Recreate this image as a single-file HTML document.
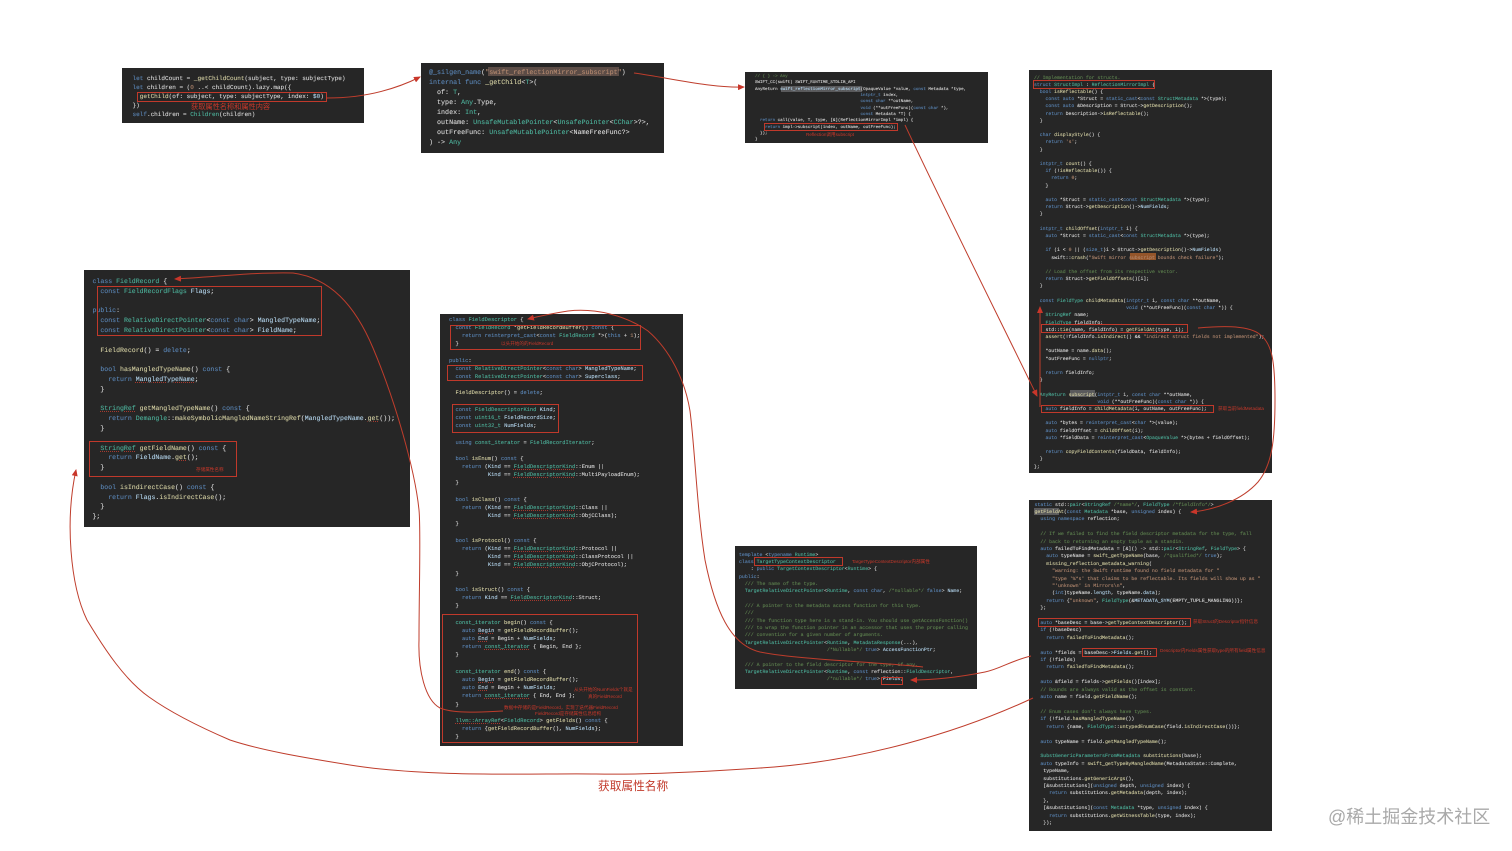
<!DOCTYPE html>
<html lang="zh"><head><meta charset="utf-8"><title>Swift Mirror</title>
<style>
html,body{margin:0;padding:0;background:#fff}
body{position:relative;width:1512px;height:851px;overflow:hidden;font-family:"Liberation Mono",monospace}
.b{position:absolute;background:#262626}
pre{position:absolute;margin:0;color:#dcdcdc;font-family:"Liberation Mono",monospace;text-rendering:geometricPrecision;filter:blur(.3px);white-space:pre;-webkit-text-stroke:.08px currentColor}
i{font-style:normal}
.k{color:#5b87b8}.t{color:#4db39c}.c{color:#5f8450}.s{color:#b58a70}.f{color:#d6d2a4}.v{color:#b4d6ee}
.u{text-decoration:underline dotted #a5392e;text-decoration-thickness:.5px}
.h{position:absolute;background:#5a5a5c}
.r{position:absolute;border:1px solid #c0392b;box-sizing:border-box}
.l{position:absolute;color:#c9382a;font-family:"Liberation Sans","Noto Sans CJK SC",sans-serif;white-space:nowrap;line-height:1;filter:blur(.2px)}
svg{position:absolute;left:0;top:0}
</style></head><body>

<div class="b" style="left:122px;top:68px;width:242px;height:55px"></div>
<div class="b" style="left:421px;top:63px;width:243px;height:90px"></div>
<div class="b" style="left:745px;top:72px;width:243px;height:71px"></div>
<div class="b" style="left:1029px;top:70px;width:243px;height:403px"></div>
<div class="b" style="left:1029px;top:500px;width:243px;height:331px"></div>
<div class="b" style="left:84px;top:270px;width:326px;height:257px"></div>
<div class="b" style="left:440px;top:314px;width:243px;height:432px"></div>
<div class="b" style="left:735px;top:546px;width:242px;height:143px"></div>

<div class="h" style="left:488px;top:67px;width:131px;height:9px;background:#5c4c46"></div>
<div class="h" style="left:781px;top:86px;width:81px;height:6px"></div>
<div class="h" style="left:1070px;top:390px;width:25px;height:7px"></div>
<div class="h" style="left:1130px;top:253px;width:26px;height:7px;background:#94552a"></div>
<div class="h" style="left:1034px;top:508px;width:25px;height:7px"></div>

<pre style="left:132.5px;top:74.3px;font-size:6.03px;line-height:9px"><i class="k">let</i> childCount = <i class="f">_getChildCount</i>(subject, type: subjectType)
<i class="k">let</i> children = (<i class="s">0</i> ..&lt; childCount).lazy.map({
  <i class="f">getChild</i>(of: subject, type: subjectType, index: <i class="v">$0</i>)
})
<i class="k">self</i>.children = <i class="t">Children</i>(children)</pre>

<pre style="left:429px;top:68px;font-size:6.7px;line-height:10px"><i class="k">@_silgen_name</i>(<i class="s">"swift_reflectionMirror_subscript"</i>)
<i class="k">internal func</i> <i class="f">_getChild</i>&lt;<i class="t">T</i>&gt;(
  of: <i class="t">T</i>,
  type: <i class="t">Any</i>.Type,
  index: <i class="t">Int</i>,
  outName: <i class="t">UnsafeMutablePointer</i>&lt;<i class="t">UnsafePointer</i>&lt;<i class="t">CChar</i>&gt;?&gt;,
  outFreeFunc: <i class="t">UnsafeMutablePointer</i>&lt;NameFreeFunc?&gt;
) -&gt; <i class="t">Any</i></pre>

<pre style="left:755px;top:74px;font-size:4.2px;line-height:6.33px"><i class="c">// { } -&gt; Any</i>
SWIFT_CC(swift) SWIFT_RUNTIME_STDLIB_API
AnyReturn <i class="v">swift_reflectionMirror_subscript</i>(OpaqueValue *value, <i class="k">const</i> Metadata *type,
                                          <i class="k">intptr_t</i> index,
                                          <i class="k">const char</i> **outName,
                                          <i class="k">void</i> (**outFreeFunc)(<i class="k">const char</i> *),
                                          <i class="k">const</i> Metadata *T) {
  <i class="k">return</i> call(value, T, type, [&amp;](ReflectionMirrorImpl *impl) {
    <i class="k">return</i> impl-&gt;subscript(index, outName, outFreeFunc);
  });
}</pre>

<pre style="left:1034px;top:74.6px;font-size:4.8px;line-height:7.2px"><i class="c">// Implementation for structs.</i>
<i class="k">struct</i> <i class="t">StructImpl</i> : <i class="t">ReflectionMirrorImpl</i> {
  <i class="k">bool</i> <i class="f">isReflectable</i>() {
    <i class="k">const auto</i> *Struct = <i class="k">static_cast</i>&lt;<i class="k">const</i> <i class="t">StructMetadata</i> *&gt;(type);
    <i class="k">const auto</i> &amp;Description = Struct-&gt;<i class="f">getDescription</i>();
    <i class="k">return</i> Description-&gt;<i class="f">isReflectable</i>();
  }

  <i class="k">char</i> <i class="f">displayStyle</i>() {
    <i class="k">return</i> <i class="s">'s'</i>;
  }

  <i class="k">intptr_t</i> <i class="f">count</i>() {
    <i class="k">if</i> (!<i class="f">isReflectable</i>()) {
      <i class="k">return</i> <i class="s">0</i>;
    }

    <i class="k">auto</i> *Struct = <i class="k">static_cast</i>&lt;<i class="k">const</i> <i class="t">StructMetadata</i> *&gt;(type);
    <i class="k">return</i> Struct-&gt;<i class="f">getDescription</i>()-&gt;<i class="v">NumFields</i>;
  }

  <i class="k">intptr_t</i> <i class="f">childOffset</i>(<i class="k">intptr_t</i> i) {
    <i class="k">auto</i> *Struct = <i class="k">static_cast</i>&lt;<i class="k">const</i> <i class="t">StructMetadata</i> *&gt;(type);

    <i class="k">if</i> (i &lt; <i class="s">0</i> || (<i class="k">size_t</i>)i &gt; Struct-&gt;<i class="f">getDescription</i>()-&gt;<i class="v">NumFields</i>)
      swift::<i class="f">crash</i>(<i class="s">"Swift mirror subscript bounds check failure"</i>);

    <i class="c">// Load the offset from its respective vector.</i>
    <i class="k">return</i> Struct-&gt;<i class="f">getFieldOffsets</i>()[i];
  }

  <i class="k">const</i> <i class="t">FieldType</i> <i class="f">childMetadata</i>(<i class="k">intptr_t</i> i, <i class="k">const char</i> **outName,
                                <i class="k">void</i> (**outFreeFunc)(<i class="k">const char</i> *)) {
    <i class="t">StringRef</i> name;
    <i class="t">FieldType</i> fieldInfo;
    std::<i class="f">tie</i>(name, fieldInfo) = <i class="f">getFieldAt</i>(type, i);
    <i class="f">assert</i>(!fieldInfo.<i class="f">isIndirect</i>() &amp;&amp; <i class="s">"indirect struct fields not implemented"</i>);

    *outName = name.<i class="f">data</i>();
    *outFreeFunc = <i class="k">nullptr</i>;

    <i class="k">return</i> fieldInfo;
  }

  <i class="t">AnyReturn</i> <i class="f">subscript</i>(<i class="k">intptr_t</i> i, <i class="k">const char</i> **outName,
                      <i class="k">void</i> (**outFreeFunc)(<i class="k">const char</i> *)) {
    <i class="k">auto</i> fieldInfo = <i class="f">childMetadata</i>(i, outName, outFreeFunc);

    <i class="k">auto</i> *bytes = <i class="k">reinterpret_cast</i>&lt;<i class="k">char</i> *&gt;(value);
    <i class="k">auto</i> fieldOffset = <i class="f">childOffset</i>(i);
    <i class="k">auto</i> *fieldData = <i class="k">reinterpret_cast</i>&lt;<i class="t">OpaqueValue</i> *&gt;(bytes + fieldOffset);

    <i class="k">return</i> <i class="f">copyFieldContents</i>(fieldData, fieldInfo);
  }
};</pre>

<pre style="left:1034.5px;top:501.5px;font-size:4.9px;line-height:7.4px"><i class="k">static</i> std::<i class="t">pair</i>&lt;<i class="t">StringRef</i> <i class="c">/*name*/</i>, <i class="t">FieldType</i> <i class="c">/*fieldInfo*/</i>&gt;
<i class="f">getFieldAt</i>(<i class="k">const</i> <i class="t">Metadata</i> *base, <i class="k">unsigned</i> index) {
  <i class="k">using namespace</i> reflection;

  <i class="c">// If we failed to find the field descriptor metadata for the type, fall</i>
  <i class="c">// back to returning an empty tuple as a standin.</i>
  <i class="k">auto</i> failedToFindMetadata = [&amp;]() -&gt; std::<i class="t">pair</i>&lt;<i class="t">StringRef</i>, <i class="t">FieldType</i>&gt; {
    <i class="k">auto</i> typeName = <i class="f">swift_getTypeName</i>(base, <i class="c">/*qualified*/</i> <i class="k">true</i>);
    <i class="f">missing_reflection_metadata_warning</i>(
      <i class="s">"warning: the Swift runtime found no field metadata for "</i>
      <i class="s">"type '%*s' that claims to be reflectable. Its fields will show up as "</i>
      <i class="s">"'unknown' in Mirrors\n"</i>,
      (<i class="k">int</i>)typeName.<i class="v">length</i>, typeName.<i class="v">data</i>);
    <i class="k">return</i> {<i class="s">"unknown"</i>, <i class="t">FieldType</i>(&amp;<i class="v">METADATA_SYM</i>(EMPTY_TUPLE_MANGLING))};
  };

  <i class="k">auto</i> *baseDesc = base-&gt;<i class="f">getTypeContextDescriptor</i>();
  <i class="k">if</i> (!baseDesc)
    <i class="k">return</i> <i class="f">failedToFindMetadata</i>();

  <i class="k">auto</i> *fields = baseDesc-&gt;<i class="v">Fields</i>.<i class="f">get</i>();
  <i class="k">if</i> (!fields)
    <i class="k">return</i> <i class="f">failedToFindMetadata</i>();

  <i class="k">auto</i> &amp;field = fields-&gt;<i class="f">getFields</i>()[index];
  <i class="c">// Bounds are always valid as the offset is constant.</i>
  <i class="k">auto</i> name = field.<i class="f">getFieldName</i>();

  <i class="c">// Enum cases don't always have types.</i>
  <i class="k">if</i> (!field.<i class="f">hasMangledTypeName</i>())
    <i class="k">return</i> {name, <i class="t">FieldType</i>::<i class="f">untypedEnumCase</i>(field.<i class="f">isIndirectCase</i>())};

  <i class="k">auto</i> typeName = field.<i class="f">getMangledTypeName</i>();

  <i class="t">SubstGenericParametersFromMetadata</i> <i class="f">substitutions</i>(base);
  <i class="k">auto</i> typeInfo = <i class="f">swift_getTypeByMangledName</i>(MetadataState::Complete,
   typeName,
   substitutions.<i class="f">getGenericArgs</i>(),
   [&amp;substitutions](<i class="k">unsigned</i> depth, <i class="k">unsigned</i> index) {
     <i class="k">return</i> substitutions.<i class="f">getMetadata</i>(depth, index);
   },
   [&amp;substitutions](<i class="k">const</i> <i class="t">Metadata</i> *type, <i class="k">unsigned</i> index) {
     <i class="k">return</i> substitutions.<i class="f">getWitnessTable</i>(type, index);
   });</pre>

<pre style="left:92.5px;top:277px;font-size:6.56px;line-height:9.8px"><i class="k">class</i> <i class="t">FieldRecord</i> {
  <i class="k">const</i> <i class="t">FieldRecordFlags</i> <i class="v">Flags</i>;

<i class="k">public</i>:
  <i class="k">const</i> <i class="t">RelativeDirectPointer</i>&lt;<i class="k">const char</i>&gt; <i class="v">MangledTypeName</i>;
  <i class="k">const</i> <i class="t">RelativeDirectPointer</i>&lt;<i class="k">const char</i>&gt; <i class="v">FieldName</i>;

  <i class="f">FieldRecord</i>() = <i class="k">delete</i>;

  <i class="k">bool</i> <i class="f">hasMangledTypeName</i>() <i class="k">const</i> {
    <i class="k">return</i> <i class="v u">MangledTypeName</i>;
  }

  <i class="t u">StringRef</i> <i class="f">getMangledTypeName</i>() <i class="k">const</i> {
    <i class="k">return</i> <i class="t">Demangle</i>::<i class="f">makeSymbolicMangledNameStringRef</i>(<i class="v">MangledTypeName</i>.<i class="f u">get</i>());
  }

  <i class="t u">StringRef</i> <i class="f">getFieldName</i>() <i class="k">const</i> {
    <i class="k">return</i> <i class="v">FieldName</i>.<i class="f u">get</i>();
  }

  <i class="k">bool</i> <i class="f">isIndirectCase</i>() <i class="k">const</i> {
    <i class="k">return</i> <i class="v">Flags</i>.<i class="f">isIndirectCase</i>();
  }
};</pre>

<pre style="left:449px;top:315.7px;font-size:5.4px;line-height:8.19px"><i class="k">class</i> <i class="t">FieldDescriptor</i> {
  <i class="k">const</i> <i class="t">FieldRecord</i> *<i class="f">getFieldRecordBuffer</i>() <i class="k">const</i> {
    <i class="k">return</i> <i class="k">reinterpret_cast</i>&lt;<i class="k">const</i> <i class="t">FieldRecord</i> *&gt;(<i class="k">this</i> + <i class="s">1</i>);
  }

<i class="k">public</i>:
  <i class="k">const</i> <i class="t">RelativeDirectPointer</i>&lt;<i class="k">const char</i>&gt; <i class="v">MangledTypeName</i>;
  <i class="k">const</i> <i class="t">RelativeDirectPointer</i>&lt;<i class="k">const char</i>&gt; <i class="v">Superclass</i>;

  <i class="f">FieldDescriptor</i>() = <i class="k">delete</i>;

  <i class="k">const</i> <i class="t">FieldDescriptorKind</i> <i class="v">Kind</i>;
  <i class="k">const</i> <i class="t">uint16_t</i> <i class="v">FieldRecordSize</i>;
  <i class="k">const</i> <i class="t">uint32_t</i> <i class="v">NumFields</i>;

  <i class="k">using</i> <i class="t">const_iterator</i> = <i class="t">FieldRecordIterator</i>;

  <i class="k">bool</i> <i class="f">isEnum</i>() <i class="k">const</i> {
    <i class="k">return</i> (<i class="v">Kind</i> == <i class="t u">FieldDescriptorKind</i>::Enum ||
            <i class="v">Kind</i> == <i class="t u">FieldDescriptorKind</i>::MultiPayloadEnum);
  }

  <i class="k">bool</i> <i class="f">isClass</i>() <i class="k">const</i> {
    <i class="k">return</i> (<i class="v">Kind</i> == <i class="t u">FieldDescriptorKind</i>::Class ||
            <i class="v">Kind</i> == <i class="t u">FieldDescriptorKind</i>::ObjCClass);
  }

  <i class="k">bool</i> <i class="f">isProtocol</i>() <i class="k">const</i> {
    <i class="k">return</i> (<i class="v">Kind</i> == <i class="t u">FieldDescriptorKind</i>::Protocol ||
            <i class="v">Kind</i> == <i class="t u">FieldDescriptorKind</i>::ClassProtocol ||
            <i class="v">Kind</i> == <i class="t u">FieldDescriptorKind</i>::ObjCProtocol);
  }

  <i class="k">bool</i> <i class="f">isStruct</i>() <i class="k">const</i> {
    <i class="k">return</i> <i class="v">Kind</i> == <i class="t u">FieldDescriptorKind</i>::Struct;
  }

  <i class="t">const_iterator</i> <i class="f">begin</i>() <i class="k">const</i> {
    <i class="k">auto</i> <i class="v u">Begin</i> = <i class="f">getFieldRecordBuffer</i>();
    <i class="k">auto</i> <i class="v u">End</i> = Begin + <i class="v">NumFields</i>;
    <i class="k">return</i> <i class="t u">const_iterator</i> { Begin, End };
  }

  <i class="t">const_iterator</i> <i class="f">end</i>() <i class="k">const</i> {
    <i class="k">auto</i> <i class="v u">Begin</i> = <i class="f">getFieldRecordBuffer</i>();
    <i class="k">auto</i> <i class="v u">End</i> = Begin + <i class="v">NumFields</i>;
    <i class="k">return</i> <i class="t u">const_iterator</i> { End, End };
  }

  <i class="t u">llvm::ArrayRef</i>&lt;<i class="t">FieldRecord</i>&gt; <i class="f">getFields</i>() <i class="k">const</i> {
    <i class="k">return</i> {<i class="f">getFieldRecordBuffer</i>(), <i class="v">NumFields</i>};
  }</pre>

<pre style="left:739px;top:551.6px;font-size:4.9px;line-height:7.33px"><i class="k">template</i> &lt;<i class="k">typename</i> <i class="t">Runtime</i>&gt;
<i class="k">class</i> <i class="t">TargetTypeContextDescriptor</i>
    : <i class="k">public</i> <i class="t">TargetContextDescriptor</i>&lt;<i class="t">Runtime</i>&gt; {
<i class="k">public</i>:
  <i class="c">/// The name of the type.</i>
  <i class="t">TargetRelativeDirectPointer</i>&lt;<i class="t">Runtime</i>, <i class="k">const char</i>, <i class="c">/*nullable*/</i> <i class="k">false</i>&gt; <i class="v">Name</i>;

  <i class="c">/// A pointer to the metadata access function for this type.</i>
  <i class="c">///</i>
  <i class="c">/// The function type here is a stand-in. You should use getAccessFunction()</i>
  <i class="c">/// to wrap the function pointer in an accessor that uses the proper calling</i>
  <i class="c">/// convention for a given number of arguments.</i>
  <i class="t">TargetRelativeDirectPointer</i>&lt;<i class="t">Runtime</i>, <i class="t">MetadataResponse</i>(...),
                              <i class="c">/*Nullable*/</i> <i class="k">true</i>&gt; <i class="v">AccessFunctionPtr</i>;

  <i class="c">/// A pointer to the field descriptor for the type, if any.</i>
  <i class="t">TargetRelativeDirectPointer</i>&lt;<i class="t">Runtime</i>, <i class="k">const</i> reflection::<i class="t">FieldDescriptor</i>,
                              <i class="c">/*nullable*/</i> <i class="k">true</i>&gt; <i class="v">Fields</i>;</pre>

<div class="r" style="left:136.5px;top:91.7px;width:190px;height:10px"></div>
<div class="r" style="left:764px;top:123px;width:134px;height:7.5px"></div>
<div class="r" style="left:1033px;top:80px;width:122px;height:9px"></div>
<div class="r" style="left:1041px;top:324.3px;width:147px;height:8.5px"></div>
<div class="r" style="left:1041px;top:405px;width:173px;height:8px"></div>
<div class="r" style="left:1038px;top:618px;width:153px;height:9px"></div>
<div class="r" style="left:1082px;top:648px;width:75px;height:9px"></div>
<div class="r" style="left:97px;top:285.7px;width:225px;height:50px"></div>
<div class="r" style="left:89px;top:440.7px;width:148px;height:36.6px"></div>
<div class="r" style="left:450px;top:324.7px;width:191px;height:25px"></div>
<div class="r" style="left:447px;top:364.7px;width:196px;height:16px"></div>
<div class="r" style="left:452px;top:404px;width:107px;height:29px"></div>
<div class="r" style="left:442px;top:614.3px;width:196px;height:129px"></div>
<div class="r" style="left:754px;top:557.3px;width:89px;height:9px"></div>
<div class="r" style="left:880.7px;top:676.7px;width:22px;height:8.5px"></div>

<div class="l" style="left:191px;top:103px;font-size:7.2px">获取属性名称和属性内容</div>
<div class="l" style="left:806px;top:132.5px;font-size:4.6px">Reflection调用subscript</div>
<div class="l" style="left:1218px;top:406.5px;font-size:4.6px">获取当前fieldMetadata</div>
<div class="l" style="left:1193px;top:619.7px;font-size:4.6px">获取Struct的Descriptor指针信息</div>
<div class="l" style="left:1160px;top:648.7px;font-size:4.6px">Descriptor内Fields属性获取type的所有field属性信息</div>
<div class="l" style="left:196px;top:467.8px;font-size:4.6px">存储属性名称</div>
<div class="l" style="left:501px;top:341.5px;font-size:4.6px">以头开始的的FieldRecord</div>
<div class="l" style="left:574px;top:687.7px;font-size:4.6px">从头开始的NumFields个就是</div>
<div class="l" style="left:588px;top:694.8px;font-size:4.6px">真的FieldRecord</div>
<div class="l" style="left:504px;top:706px;font-size:4.6px">数据中存储的是FieldRecord，实现了迭代器FieldRecord</div>
<div class="l" style="left:535px;top:712px;font-size:4.6px">FieldRecord是存储属性信息结构</div>
<div class="l" style="left:852px;top:559.7px;font-size:4.6px">TargetTypeContextDescriptor内部属性</div>
<div class="l" style="left:598px;top:781px;font-size:11.7px;color:#c23b2c">获取属性名称</div>
<div class="l" style="left:1328px;top:808px;font-size:18px;color:#a9a9a9">@稀土掘金技术社区</div>

<svg width="1512" height="851" viewBox="0 0 1512 851" fill="none" stroke="#bf3d2c" stroke-width="1">
<defs><marker id="a" markerUnits="userSpaceOnUse" markerWidth="7" markerHeight="6" refX="6" refY="3" orient="auto"><path d="M0 0L7 3L0 6Z" fill="#c9362a" stroke="none"/></marker></defs>
<path marker-end="url(#a)" d="M327 98C360 98 390 92 420 77"/>
<path marker-end="url(#a)" d="M634 73C670 78 710 88 744 87"/>
<path marker-end="url(#a)" d="M905 125C940 200 1000 320 1037 396"/>
<path marker-end="url(#a)" d="M1040 407L1040 307"/>
<path marker-end="url(#a)" d="M1198 328C1220 326 1245 325 1258 333C1272 342 1275 360 1275 400C1275 440 1272 465 1258 482C1242 500 1215 510 1191 512"/>
<path marker-end="url(#a)" d="M1031 656C1010 661 1000 669 985 672C960 677 935 680 911 680"/>
<path marker-end="url(#a)" d="M923 667C880 662 800 660 760 652C730 645 715 610 705 560C697 510 695 450 690 411C685 380 670 350 648 331C625 315 595 308 568 311C555 313 540 316 528 319"/>
<path marker-end="url(#a)" d="M503 711C480 712 455 714 440 708C425 700 418 670 419 640C419 590 421 530 419 510C415 470 395 400 373 348C355 305 330 278 293 273C255 272 215 277 175 279"/>
<path marker-end="url(#a)" d="M1033 698C960 732 860 762 760 768C700 772 640 775 596 774C540 773 430 778 350 765C300 757 260 750 230 740C195 725 170 712 149 697C125 680 105 650 87 620C70 585 65 520 76 470"/>
</svg>
</body></html>
